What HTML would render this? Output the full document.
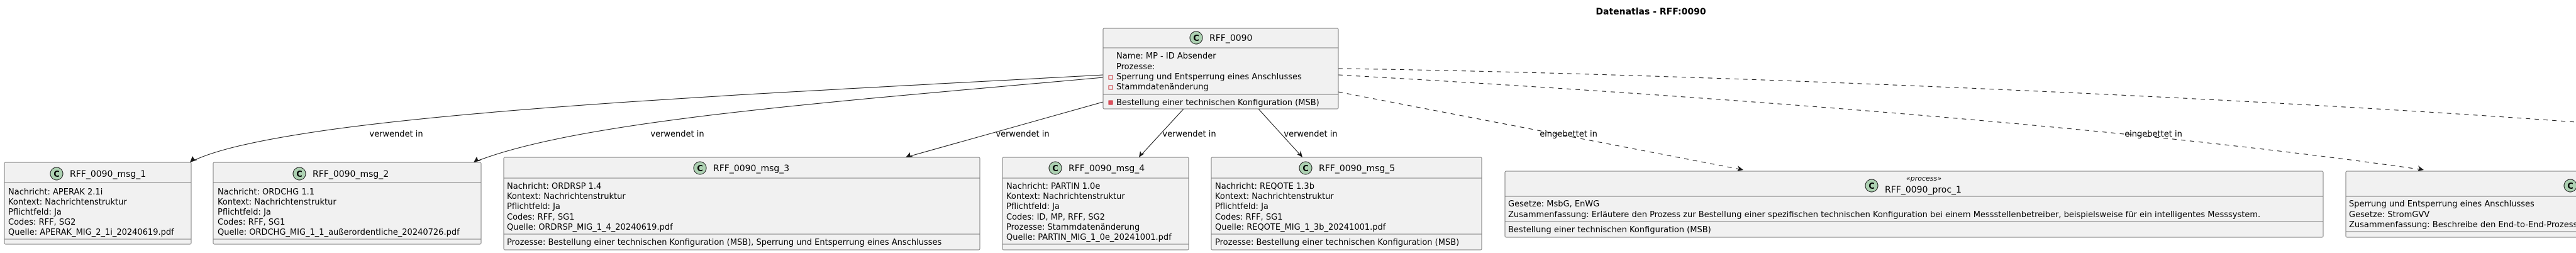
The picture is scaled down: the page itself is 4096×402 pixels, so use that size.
<!DOCTYPE html>
<html><head><meta charset="utf-8"><style>
html,body{margin:0;padding:0;background:#fff;}
svg{display:block;font-family:"DejaVu Sans","Liberation Sans",sans-serif;}
.b{fill:#F1F1F1;stroke:#7a7a7a;stroke-width:1;}
.d{stroke:#7a7a7a;stroke-width:1;}
.t{font-size:13px;fill:#000;}
.h{font-size:14px;fill:#000;}
.l{font-size:13px;fill:#000;}
.e{fill:none;stroke:#181818;stroke-width:1;}
.ed{fill:none;stroke:#181818;stroke-width:1;stroke-dasharray:7,7;}
.c{fill:#ADD1B2;stroke:#181818;stroke-width:1;}
.cl{font-size:13px;font-weight:bold;fill:#000;}
</style></head><body>
<svg width="4096" height="402" viewBox="0 0 4096 402" xmlns="http://www.w3.org/2000/svg">
<text x="2625" y="23" text-anchor="middle" style="font-size:14px;font-weight:bold">Datenatlas - RFF:0090</text>

<!-- edges -->
<path class="e" d="M1754,119 C1200,150 450,180 302,258"/>
<polygon points="302,258 306,248 309,253 314,254" fill="#181818"/>
<path class="e" d="M1754,123 C1350,160 920,190 753,258"/>
<polygon points="753,258 758,249 760,254 765,255" fill="#181818"/>
<path class="e" d="M1754,162 L1440,250"/>
<polygon points="1440,250 1447,242 1447,247 1452,249" fill="#181818"/>
<path class="e" d="M1882,173 L1811,250"/>
<polygon points="1811,250 1813,240 1815,244 1820,244" fill="#181818"/>
<path class="e" d="M2001,173 L2071,250"/>
<polygon points="2071,250 2062,245 2067,244 2068,239" fill="#181818"/>
<path class="ed" d="M2128,146 L2772,270"/>
<polygon points="2772,270 2762,272 2765,268 2763,263" fill="#181818"/>
<path class="ed" d="M2128,119 C2500,140 3300,190 3854,270"/>
<polygon points="3854,270 3844,272 3847,268 3845,263" fill="#181818"/>
<path class="ed" d="M2128,109 C2600,115 3500,150 4096,194"/>

<text class="l" x="630" y="217" text-anchor="middle">verwendet in</text>
<text class="l" x="1077" y="217" text-anchor="middle">verwendet in</text>
<text class="l" x="1626" y="217" text-anchor="middle">verwendet in</text>
<text class="l" x="1891" y="217" text-anchor="middle">verwendet in</text>
<text class="l" x="2084" y="217" text-anchor="middle">verwendet in</text>
<text class="l" x="2494" y="217" text-anchor="middle">eingebettet in</text>
<text class="l" x="3424" y="217" text-anchor="middle">eingebettet in</text>

<!-- main -->
<rect class="b" x="1754" y="45" width="374" height="128" rx="2"/>
<line class="d" x1="1754" y1="76" x2="2128" y2="76"/>
<line class="d" x1="1754" y1="150" x2="2128" y2="150"/>
<circle class="c" cx="1902" cy="60" r="10"/><text class="cl" x="1902" y="65" text-anchor="middle">C</text>
<text class="h" x="1923" y="65">RFF_0090</text>
<text class="t" x="1775" y="93">Name: MP - ID Absender</text>
<text class="t" x="1775" y="110">Prozesse:</text>
<rect x="1763" y="120" width="6" height="6" fill="none" stroke="#C82930"/>
<text class="t" x="1775" y="126">Sperrung und Entsperrung eines Anschlusses</text>
<rect x="1763" y="136" width="6" height="6" fill="none" stroke="#C82930"/>
<text class="t" x="1775" y="142">Stammdatenänderung</text>
<rect x="1763" y="160" width="6" height="6" fill="#E05060" stroke="#C82930"/>
<text class="t" x="1775" y="167">Bestellung einer technischen Konfiguration (MSB)</text>

<!-- msg_1 -->
<rect class="b" x="7" y="258" width="297" height="130" rx="2"/>
<line class="d" x1="7" y1="290" x2="304" y2="290"/>
<line class="d" x1="7" y1="380" x2="304" y2="380"/>
<circle class="c" cx="90" cy="276" r="10"/><text class="cl" x="90" y="281" text-anchor="middle">C</text>
<text class="h" x="111" y="281">RFF_0090_msg_1</text>
<text class="t" x="13" y="309">Nachricht: APERAK 2.1i</text>
<text class="t" x="13" y="325">Kontext: Nachrichtenstruktur</text>
<text class="t" x="13" y="341">Pflichtfeld: Ja</text>
<text class="t" x="13" y="357">Codes: RFF, SG2</text>
<text class="t" x="13" y="373">Quelle: APERAK_MIG_2_1i_20240619.pdf</text>

<!-- msg_2 -->
<rect class="b" x="339" y="258" width="426" height="130" rx="2"/>
<line class="d" x1="339" y1="290" x2="765" y2="290"/>
<line class="d" x1="339" y1="380" x2="765" y2="380"/>
<circle class="c" cx="476" cy="276" r="10"/><text class="cl" x="476" y="281" text-anchor="middle">C</text>
<text class="h" x="497" y="281">RFF_0090_msg_2</text>
<text class="t" x="346" y="309">Nachricht: ORDCHG 1.1</text>
<text class="t" x="346" y="325">Kontext: Nachrichtenstruktur</text>
<text class="t" x="346" y="341">Pflichtfeld: Ja</text>
<text class="t" x="346" y="357">Codes: RFF, SG1</text>
<text class="t" x="346" y="373">Quelle: ORDCHG_MIG_1_1_außerordentliche_20240726.pdf</text>

<!-- msg_3 -->
<rect class="b" x="801" y="250" width="757" height="147" rx="2"/>
<line class="d" x1="801" y1="283" x2="1558" y2="283"/>
<line class="d" x1="801" y1="372" x2="1558" y2="372"/>
<circle class="c" cx="1113" cy="267" r="10"/><text class="cl" x="1113" y="272" text-anchor="middle">C</text>
<text class="h" x="1134" y="272">RFF_0090_msg_3</text>
<text class="t" x="806" y="300">Nachricht: ORDRSP 1.4</text>
<text class="t" x="806" y="316">Kontext: Nachrichtenstruktur</text>
<text class="t" x="806" y="332">Pflichtfeld: Ja</text>
<text class="t" x="806" y="349">Codes: RFF, SG1</text>
<text class="t" x="806" y="365">Quelle: ORDRSP_MIG_1_4_20240619.pdf</text>
<text class="t" x="806" y="389">Prozesse: Bestellung einer technischen Konfiguration (MSB), Sperrung und Entsperrung eines Anschlusses</text>

<!-- msg_4 -->
<rect class="b" x="1594" y="250" width="296" height="147" rx="2"/>
<line class="d" x1="1594" y1="283" x2="1890" y2="283"/>
<line class="d" x1="1594" y1="388" x2="1890" y2="388"/>
<circle class="c" cx="1678" cy="267" r="10"/><text class="cl" x="1678" y="272" text-anchor="middle">C</text>
<text class="h" x="1699" y="272">RFF_0090_msg_4</text>
<text class="t" x="1600" y="300">Nachricht: PARTIN 1.0e</text>
<text class="t" x="1600" y="316">Kontext: Nachrichtenstruktur</text>
<text class="t" x="1600" y="332">Pflichtfeld: Ja</text>
<text class="t" x="1600" y="349">Codes: ID, MP, RFF, SG2</text>
<text class="t" x="1600" y="365">Prozesse: Stammdatenänderung</text>
<text class="t" x="1600" y="381">Quelle: PARTIN_MIG_1_0e_20241001.pdf</text>

<!-- msg_5 -->
<rect class="b" x="1926" y="250" width="430" height="147" rx="2"/>
<line class="d" x1="1926" y1="283" x2="2356" y2="283"/>
<line class="d" x1="1926" y1="372" x2="2356" y2="372"/>
<circle class="c" cx="2076" cy="267" r="10"/><text class="cl" x="2076" y="272" text-anchor="middle">C</text>
<text class="h" x="2097" y="272">RFF_0090_msg_5</text>
<text class="t" x="1932" y="300">Nachricht: REQOTE 1.3b</text>
<text class="t" x="1932" y="316">Kontext: Nachrichtenstruktur</text>
<text class="t" x="1932" y="332">Pflichtfeld: Ja</text>
<text class="t" x="1932" y="349">Codes: RFF, SG1</text>
<text class="t" x="1932" y="365">Quelle: REQOTE_MIG_1_3b_20241001.pdf</text>
<text class="t" x="1932" y="389">Prozesse: Bestellung einer technischen Konfiguration (MSB)</text>

<!-- proc_1 -->
<rect class="b" x="2393" y="272" width="1301" height="105" rx="2"/>
<line class="d" x1="2393" y1="312" x2="3694" y2="312"/>
<line class="d" x1="2393" y1="352" x2="3694" y2="352"/>
<circle class="c" cx="2976" cy="295" r="10"/><text class="cl" x="2976" y="300" text-anchor="middle">C</text>
<text x="3059" y="287" text-anchor="middle" style="font-size:11px;font-style:italic">«process»</text>
<text class="h" x="2997" y="306">RFF_0090_proc_1</text>
<text class="t" x="2398" y="328">Gesetze: MsbG, EnWG</text>
<text class="t" x="2398" y="345">Zusammenfassung: Erläutere den Prozess zur Bestellung einer spezifischen technischen Konfiguration bei einem Messstellenbetreiber, beispielsweise für ein intelligentes Messsystem.</text>
<text class="t" x="2398" y="369">Bestellung einer technischen Konfiguration (MSB)</text>

<!-- proc_2 -->
<rect class="b" x="3730" y="272" width="400" height="105" rx="2"/>
<line class="d" x1="3730" y1="312" x2="4096" y2="312"/>
<line class="d" x1="3730" y1="368" x2="4096" y2="368"/>
<circle class="c" cx="4087" cy="295" r="10"/><text class="cl" x="4087" y="300" text-anchor="middle">C</text>
<text class="t" x="3735" y="328">Sperrung und Entsperrung eines Anschlusses</text>
<text class="t" x="3735" y="345">Gesetze: StromGVV</text>
<text class="t" x="3735" y="361">Zusammenfassung: Beschreibe den End-to-End-Prozess</text>
</svg>
</body></html>
